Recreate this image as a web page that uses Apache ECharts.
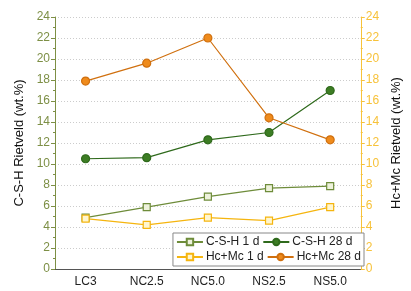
<!DOCTYPE html>
<html>
<head>
<meta charset="utf-8">
<script src="https://cdn.jsdelivr.net/npm/echarts@6/dist/echarts.min.js"></script>
<style>
  html, body { margin: 0; padding: 0; background: #fff; }
  #chart { width: 411px; height: 291px; }
</style>
</head>
<body>
<div id="chart"></div>
<script>
const categories = ['LC3', 'NC2.5', 'NC5.0', 'NS2.5', 'NS5.0']
const yTicks = [0, 2, 4, 6, 8, 10, 12, 14, 16, 18, 20, 22, 24]
const cshDay1 = [4.9, 5.9, 6.9, 7.7, 7.9]
const cshDay28 = [10.5, 10.6, 12.3, 13.0, 17.0]
const hcmcDay1 = [4.8, 4.2, 4.9, 4.6, 5.9]
const hcmcDay28 = [17.9, 19.6, 22.0, 14.4, 12.3]

const font = 'Arial, "Liberation Sans", sans-serif'
const axisGray = '#555'

const makeY = (name, color, pos) => ({
  type: 'value',
  position: pos,
  min: yTicks[0],
  max: yTicks[yTicks.length - 1],
  interval: 2,
  name: name,
  nameLocation: 'middle',
  nameGap: 23,
  nameTextStyle: { color: '#111', fontSize: 13, fontFamily: font },
  axisLine: { show: true, lineStyle: { color: color, width: 1 } },
  axisTick: { show: true, inside: false, length: 4, lineStyle: { color: color } },
  minorTick: { show: true, splitNumber: 2, length: 2, lineStyle: { color: color } },
  axisLabel: { color: color, fontSize: 12, fontFamily: font, margin: 5 },
  splitLine: { show: pos === 'left', lineStyle: { color: '#ccc', type: [1, 2] } },
})

const mk = (name, data, color, symbol, size, fill) => ({
  name: name,
  type: 'line',
  data: data,
  symbol: symbol,
  symbolSize: size,
  lineStyle: { color: color, width: 1.2 },
  itemStyle: { color: fill, borderColor: color, borderWidth: 1.2 },
  z: 3,
})

const chart = echarts.init(document.getElementById('chart'))
chart.setOption({
  animation: false,
  grid: { left: 55, right: 44, top: 17, bottom: 22 },
  xAxis: [{
    type: 'category',
    data: categories,
    boundaryGap: true,
    axisLine: { lineStyle: { color: axisGray } },
    axisTick: { alignWithLabel: true, length: 4, lineStyle: { color: axisGray } },
    axisLabel: { color: '#222', fontSize: 12, fontFamily: font, margin: 7 },
  }, {
    type: 'category',
    position: 'top',
    data: categories,
    axisLine: { show: true, lineStyle: { color: axisGray } },
    axisTick: { show: false },
    axisLabel: { show: false },
  }],
  yAxis: [
    makeY('C-S-H Rietveld (wt.%)', '#7d8f45', 'left'),
    makeY('Hc+Mc Rietveld (wt.%)', '#f7c23a', 'right'),
  ],
  legend: {
    right: 47,
    bottom: 25,
    width: 200,
    itemWidth: 26,
    itemHeight: 8,
    itemGap: 3,
    padding: [3, 3],
    borderColor: '#888',
    borderWidth: 1,
    backgroundColor: '#fff',
    textStyle: { color: '#222', fontSize: 12, fontFamily: font, padding: [0, 0, 0, -2] },
    data: ['C-S-H 1 d', 'C-S-H 28 d', 'Hc+Mc 1 d', 'Hc+Mc 28 d'],
  },
  series: [
    mk('C-S-H 1 d', cshDay1, '#6e8c3a', 'rect', 7, '#eef2dc'),
    mk('C-S-H 28 d', cshDay28, '#2f6a1c', 'circle', 8, '#3d7d24'),
    Object.assign(mk('Hc+Mc 1 d', hcmcDay1, '#f5b50f', 'rect', 7, '#fff6cf'), { yAxisIndex: 1 }),
    Object.assign(mk('Hc+Mc 28 d', hcmcDay28, '#d0700f', 'circle', 8, '#ef8b1c'), { yAxisIndex: 1 }),
  ],
})
</script>
</body>
</html>
